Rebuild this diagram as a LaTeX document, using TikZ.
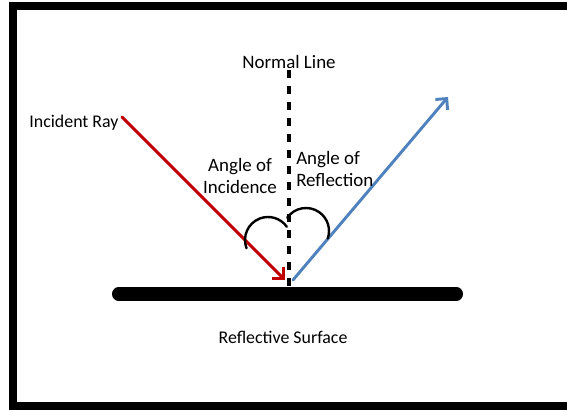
\documentclass[tikz,border=0pt]{standalone}
\usepackage{fontspec}
\setmainfont{Carlito}
\usetikzlibrary{arrows.meta}
\definecolor{incred}{RGB}{192,0,0}
\definecolor{refblue}{RGB}{79,129,189}
\begin{document}
\begin{tikzpicture}[x=0.75pt,y=0.75pt,line cap=round,line join=round,
  every node/.style={font=\fontsize{13.4}{16.5}\selectfont,inner sep=0pt},
  anglelabel/.style={font=\fontsize{14.2}{16.5}\selectfont},
  ray/.style={line width=2.2pt,-{Straight Barb[length=6pt,width=12pt]}},
  anglearc/.style={line width=1.8pt}]
  \useasboundingbox (0,0) rectangle (567,410);
  \draw[line width=6pt,line cap=butt,line join=miter] (13,403.5) rectangle (575,4);
  % surface and normal
  \coordinate (sl) at (118.5,116);
  \coordinate (sr) at (456.5,116);
  \coordinate (ntop) at (289,340);
  \coordinate (nbot) at (289,116);
  \draw[line width=3.4pt,line cap=butt,dash pattern=on 6pt off 6pt] (ntop) -- (nbot);
  \draw[line width=9.8pt] (sl) -- (sr);
  % rays
  \coordinate (inc) at (122,293);
  \coordinate (hit) at (285,130);
  \coordinate (refstart) at (293,130);
  \coordinate (ref) at (448,313);
  \draw[ray,incred] (inc) -- (hit);
  \draw[ray,refblue] (refstart) -- (ref);
  % angles
  \draw[anglearc] (268,170) ++(201:23) arc[start angle=201, end angle=35, radius=23];
  \draw[anglearc] (306,179) ++(145:23) arc[start angle=145, end angle=-19, radius=23];
  \node[anglelabel] (normal) at (289,348) {Normal Line};
  \node (incray) at (74,287) {Incident Ray};
  \node[anglelabel,align=center] (incangle) at (240,234) {Angle of\\Incidence};
  \node[anglelabel,anchor=west,align=left] (refangle) at (296,241) {Angle of\\Reflection};
  \node (surface) at (283,73) {Reflective Surface};
\end{tikzpicture}
\end{document}
